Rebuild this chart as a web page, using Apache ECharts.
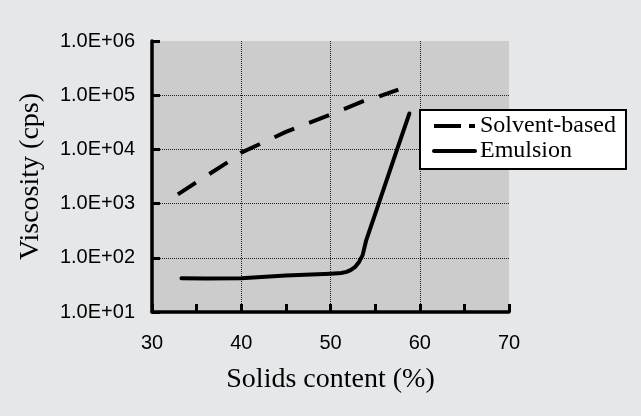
<!DOCTYPE html>
<html>
<head>
<meta charset="utf-8">
<script src="https://cdn.jsdelivr.net/npm/echarts@6/dist/echarts.min.js"></script>
<style>
  html, body { margin: 0; padding: 0; background: #e6e7e9; }
  #chart { width: 641px; height: 416px; }
</style>
</head>
<body>
<div id="chart"></div>
<script>
// ---- data ----
const solventX = [32.9, 35, 38.7, 40, 45, 50, 53.8, 55, 57.6];
const solventY = [1480, 2500, 6100, 8700, 21000, 44000, 79000, 89000, 127000];
const emulsionX = [33.3, 36, 40, 45, 50, 51.2, 51.8, 52.3, 52.8, 53.2, 53.6, 54.0, 55.4, 57.46, 58.84];
const emulsionY = [42, 41.5, 42, 47, 51, 52.5, 55, 60, 69, 84, 112, 210, 1000, 10000, 46000];
const seriesNames = ['Solvent-based', 'Emulsion'];
const xTickValues = [30, 40, 50, 60, 70];
const xAxisTitle = 'Solids content (%)';
const yAxisTitle = 'Viscosity (cps)';

function pairs(xs, ys) { return xs.map((x, i) => [x, ys[i]]); }

const chart = echarts.init(document.getElementById('chart'), null, { renderer: 'canvas' });
chart.setOption({
  backgroundColor: '#e6e7e9',
  animation: false,
  grid: {
    left: 152, right: 132, top: 41, bottom: 104,
    show: true, backgroundColor: '#cccccc', borderWidth: 0,
    containLabel: false, outerBoundsMode: 'none'
  },
  legend: {
    orient: 'vertical',
    left: 420, top: 110,
    backgroundColor: '#ffffff',
    borderColor: '#000000', borderWidth: 2, borderRadius: 0,
    padding: [4, 10, 6, 12],
    itemGap: 1,
    itemWidth: 41, itemHeight: 14,
    itemStyle: { color: 'rgba(0,0,0,0)', borderWidth: 0, opacity: 0 },
    textStyle: { fontFamily: 'Liberation Serif', fontSize: 24, color: '#000', lineHeight: 24 },
    data: [
      { name: seriesNames[0], lineStyle: { type: [27, 8, 6, 60], width: 4, color: '#000' } },
      { name: seriesNames[1], lineStyle: { type: 'solid', width: 4, color: '#000' } }
    ]
  },
  xAxis: {
    type: 'value', min: 30, max: 70, interval: 10,
    name: xAxisTitle, nameLocation: 'middle', nameGap: 54,
    nameTextStyle: { fontFamily: 'Liberation Serif', fontSize: 28, color: '#000' },
    axisLine: { show: true, onZero: false, lineStyle: { color: '#000', width: 3.5 } },
    axisTick: { show: true, inside: true, length: 8, lineStyle: { color: '#000', width: 3 } },
    minorTick: { show: true, splitNumber: 2, length: 8, lineStyle: { color: '#000', width: 3 } },
    axisLabel: {
      margin: 21, fontFamily: 'Liberation Sans', fontSize: 20, color: '#000',
      formatter: v => (xTickValues.indexOf(v) >= 0 ? String(v) : '')
    },
    splitLine: { show: true, showMinLine: false, showMaxLine: false, lineStyle: { color: '#222', width: 1, type: [1, 1] } }
  },
  yAxis: {
    type: 'log', logBase: 10, min: 10, max: 1000000,
    name: yAxisTitle, nameLocation: 'middle', nameGap: 107, nameRotate: 90,
    nameTextStyle: { fontFamily: 'Liberation Serif', fontSize: 28, color: '#000' },
    axisLine: { show: true, lineStyle: { color: '#000', width: 3.5 } },
    axisTick: { show: true, inside: true, length: 8, lineStyle: { color: '#000', width: 3 } },
    axisLabel: {
      margin: 17, fontFamily: 'Liberation Sans', fontSize: 20, color: '#000',
      formatter: v => '1.0E+' + String(Math.round(Math.log10(v))).padStart(2, '0')
    },
    splitLine: { show: true, showMinLine: false, showMaxLine: false, lineStyle: { color: '#222', width: 1, type: [1, 1] } }
  },
  series: [
    {
      name: seriesNames[0], type: 'line', data: pairs(solventX, solventY),
      showSymbol: false, symbol: 'none', smooth: false,
      lineStyle: { color: '#000', width: 4, type: [21.5, 16], cap: 'butt', join: 'round' },
      itemStyle: { color: '#000' }
    },
    {
      name: seriesNames[1], type: 'line', data: pairs(emulsionX, emulsionY),
      showSymbol: false, symbol: 'none', smooth: false,
      lineStyle: { color: '#000', width: 4, type: 'solid', cap: 'round', join: 'round' },
      itemStyle: { color: '#000' }
    }
  ]
});
</script>
</body>
</html>
